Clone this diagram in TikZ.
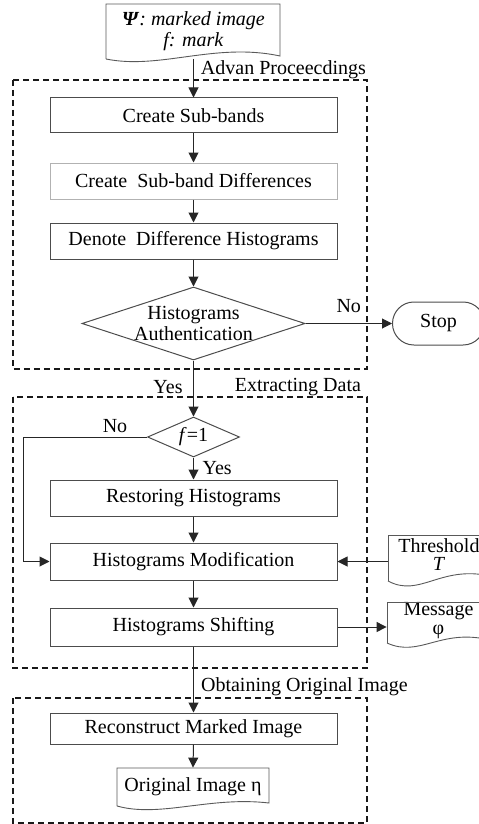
\documentclass[tikz,border=0pt]{standalone}
\usepackage{fontspec}
\setmainfont{Liberation Serif}
\usetikzlibrary{shapes.geometric,arrows.meta}
\begin{document}
\begin{tikzpicture}[x=0.5pt,y=-0.5pt,
  every node/.style={font=\fontsize{10}{10.5}\selectfont},
  procbox/.style={draw=black!70, line width=0.5pt, minimum width=143.5pt, inner sep=0pt},
  decbox/.style={draw=black!70, line width=0.5pt, diamond, inner sep=0pt},
  textonly/.style={inner sep=0pt, align=center},
  groupline/.style={dash pattern=on 3.2pt off 1.8pt, line width=0.55pt, draw=black!90},
  docline/.style={draw=black!65, line width=0.45pt},
  arr/.style={draw=black!85, line width=0.5pt, -{Triangle[length=5pt,width=5pt]}},
  plain/.style={draw=black!85, line width=0.5pt},
]
\useasboundingbox (0,0) rectangle (478,824);

% group frames
\draw[groupline] (13,80) rectangle (367,369);
\draw[groupline] (13,397) rectangle (367,668);
\draw[groupline] (13,698) rectangle (367,823);
\node[anchor=east] (lbla) at (373,70) {Advan Proceecdings};
\node[anchor=east] (lblb) at (368,387) {Extracting Data};
\node[anchor=west] (lblc) at (194,687) {Obtaining Original Image};

% source document
\node[textonly, minimum width=87pt, minimum height=27.5pt] (src) at (193.5,31) {\textbf{\textit{Ψ}}\textit{: marked image}\\\textit{f: mark}};
\draw[docline] (106,59) -- (106,4) -- (280,4) -- (280,56) .. controls (215,42) and (160,70) .. (106,59);

% process boxes
\node[procbox, minimum height=17.5pt] (csb) at (193.5,115.5) {Create Sub-bands};
\node[procbox, draw=black!30, minimum height=18pt] (csd) at (193.5,181) {Create\ \ Sub-band Differences};
\node[procbox, minimum height=18pt] (ddh) at (193.5,241) {Denote\ \ Difference Histograms};
\node[decbox, minimum width=111.5pt, minimum height=36.5pt] (auth) at (193.5,323.5) {};
\node[textonly] (authtxt) at (193.5,323.5) {Histograms\\Authentication};
\node[draw=black!70, line width=0.5pt, rounded corners=10.7pt, minimum width=46pt, minimum height=21.5pt, inner sep=0pt, anchor=west] (stop) at (392,323.5) {Stop};

\node[decbox, minimum width=46pt, minimum height=20pt] (fone) at (193.5,437) {};
\node[textonly] (fonetxt) at (193.5,437) {\textit{f}=1};
\node[procbox, minimum height=18pt] (rest) at (193.5,498) {Restoring Histograms};
\node[procbox, minimum height=18.5pt] (hm) at (193.5,561.5) {Histograms Modification};
\node[procbox, minimum height=19pt] (hs) at (193.5,627) {Histograms Shifting};
\node[procbox, minimum height=15.5pt] (rec) at (193.5,728.5) {Reconstruct Marked Image};

% threshold document
\node[textonly, minimum width=51pt, minimum height=20pt] (thr) at (439,555) {Threshold\\[-1.5pt]\textit{T}};
\draw[docline] (388,581) -- (388,535) -- (490,535);
\draw[docline] (388,581) .. controls (420,598) and (440,565) .. (490,576);

% message document
\node[textonly, minimum width=51.5pt, minimum height=20pt] (msg) at (438.5,621) {Message\\[-1pt]φ};
\draw[docline] (387,643) -- (387,602) -- (490,602);
\draw[docline] (387,643) .. controls (420,658) and (440,628) .. (490,640);

% original image document
\node[textonly, minimum width=76pt, minimum height=19pt] (orig) at (193,787) {Original Image η};
\draw[docline] (117,806) -- (117,768) -- (269,768) -- (269,803) .. controls (210,796) and (160,818) .. (117,806);

% connectors
\draw[arr] (src.south) -- (csb.north);
\draw[arr] (csb) -- (csd);
\draw[arr] (csd) -- (ddh);
\draw[arr] (ddh) -- (auth.north);
\draw[arr] (auth.east) -- (stop.west) node[midway, above=2pt] (no1) {No};
\draw[arr] (auth.south) -- (fone.north);
\node (yes1) at (168,387) {Yes};
\draw[arr] (fone.south) -- (rest.north) node[midway, right=1pt] (yes2) {Yes};
\coordinate (nobend) at (23,437);
\draw[arr] (fone.west) -- (nobend) |- (hm.west);
\node (no2) at (115,426) {No};
\draw[arr] (rest) -- (hm);
\draw[arr] (hm) -- (hs);
\draw[arr] (thr.west |- hm.east) -- (hm.east);
\draw[arr] (hs.east) -- (msg.west |- hs.east);
\draw[arr] (hs.south) -- (rec.north);
\draw[arr] (rec.south) -- (orig.north);
\end{tikzpicture}
\end{document}
